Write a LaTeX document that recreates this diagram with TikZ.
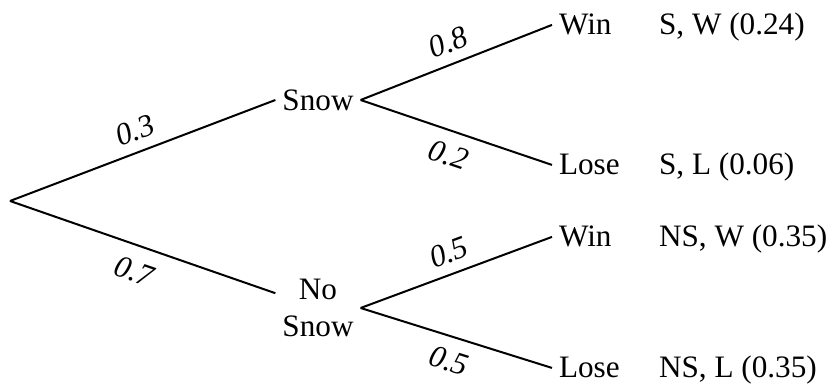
\documentclass[tikz,border=0pt]{standalone}
\usepackage{fontspec}
\setmainfont{Liberation Serif}

\begin{document}
\begin{tikzpicture}[x=0.5pt, y=0.5pt, font=\fontsize{15.6}{18.5}\selectfont,
  branch/.style={line width=1pt},
  prob/.style={midway, sloped, inner sep=4pt, font=\fontsize{15.6}{18.5}\selectfont\itshape}]
\useasboundingbox (0,0) rectangle (836,390);
% Nodes
\coordinate (root) at (10,189);
\node (snow) at (318,290) {Snow};
\node[align=center] (nosnow) at (318,82) {No\\Snow};
\node[anchor=base west] (win1) at (552,355) {Win};
\node[anchor=base west] (lose1) at (552,215) {Lose};
\node[anchor=base west] (win2) at (552,143) {Win};
\node[anchor=base west] (lose2) at (552,12) {Lose};
\node[anchor=base west] (sw) at (652,355) {S, W (0.24)};
\node[anchor=base west] (sl) at (652,215) {S, L (0.06)};
\node[anchor=base west] (nsw) at (652,143) {NS, W (0.35)};
\node[anchor=base west] (nsl) at (652,12) {NS, L (0.35)};

% Branches
\draw[branch] (root) -- (snow.west) node[prob, above=1pt] {0.3};
\draw[branch] (root) -- (nosnow) node[prob, below=3pt] {0.7};
\draw[branch] (snow.east) -- (win1.west) node[prob, above=1pt] {0.8};
\draw[branch] (snow.east) -- (lose1.west) node[prob, below=2pt] {0.2};
\draw[branch] (nosnow.east) -- (win2.west) node[prob, above=1pt] {0.5};
\draw[branch] (nosnow.east) -- (lose2.west) node[prob, below=2pt] {0.5};
\end{tikzpicture}
\end{document}
